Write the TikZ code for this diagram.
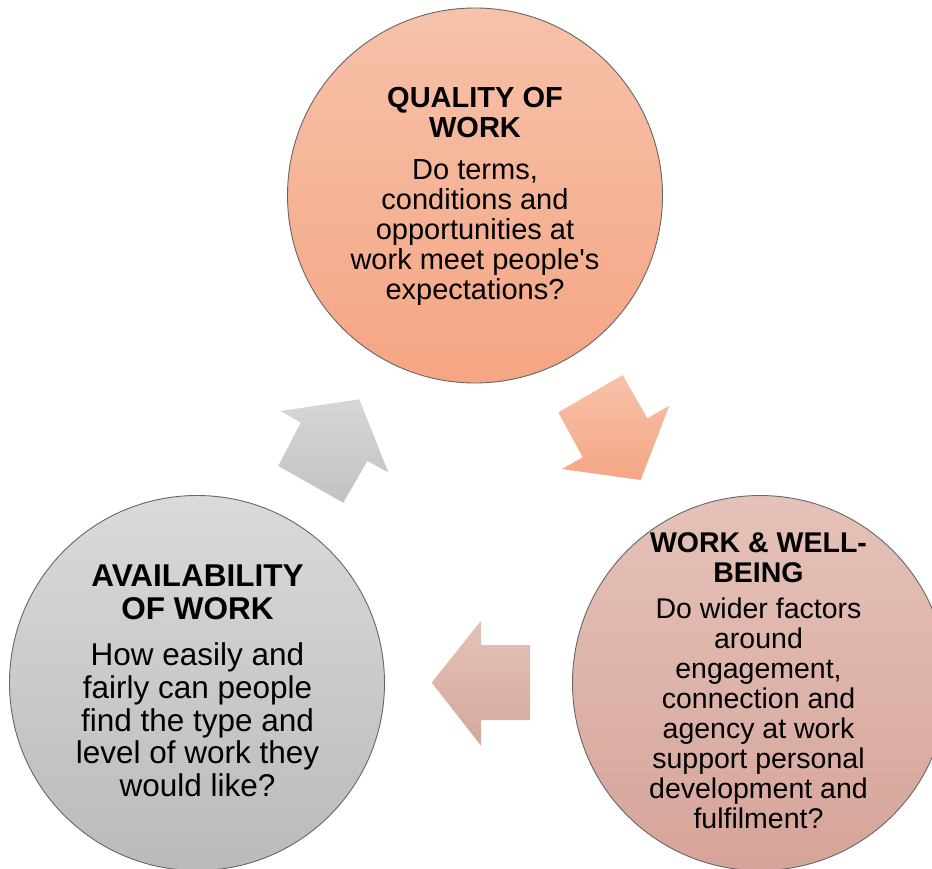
\documentclass[tikz,border=0pt]{standalone}
\usepackage{fontspec}
\setmainfont{Liberation Sans}[Ligatures=TeXOff]
\definecolor{qualtop}{RGB}{246,194,170}
\definecolor{qualbot}{RGB}{245,165,131}
\definecolor{welltop}{RGB}{229,194,185}
\definecolor{wellbot}{RGB}{214,164,153}
\definecolor{availtop}{RGB}{218,218,218}
\definecolor{availbot}{RGB}{186,186,186}
\definecolor{salarrtop}{RGB}{246,194,170}
\definecolor{salarrbot}{RGB}{245,166,132}
\definecolor{grayarrtop}{RGB}{214,214,214}
\definecolor{grayarrbot}{RGB}{194,194,194}
\definecolor{pinkarrtop}{RGB}{227,194,184}
\definecolor{pinkarrbot}{RGB}{214,167,156}
\begin{document}
\begin{tikzpicture}[x=1pt,y=-1pt,
  bubble/.style={circle, minimum size=375pt, inner sep=0pt, draw=black!60, line width=0.9pt},
  bubbletext/.style={align=center, anchor=north, inner sep=0pt, text=black},
  blockarrow/.style={draw=none}]
\useasboundingbox (0,0) rectangle (932,869);

% circles
\node[bubble, top color=qualtop, bottom color=qualbot] (qual) at (475,195.5) {};
\node[bubble, top color=availtop, bottom color=availbot] (avail) at (197,683) {};
\node[bubble, top color=welltop, bottom color=wellbot] (well) at (760,683) {};

% texts
\node[bubbletext, font=\fontsize{29}{30}\selectfont] (qualtxt) at (475,87.5)
  {\textbf{QUALITY OF}\\\textbf{WORK}\\[12pt]Do terms,\\conditions and\\opportunities at\\work meet people's\\expectations?};
\node[bubbletext, font=\fontsize{31.5}{32.8}\selectfont] (availtxt) at (197.5,564.5)
  {\textbf{AVAILABILITY}\\\textbf{OF WORK}\\[13.5pt]How easily and\\fairly can people\\find the type and\\level of work they\\would like?};
\node[bubbletext, font=\fontsize{28.5}{30}\selectfont] (welltxt) at (758.5,532)
  {\textbf{WORK \& WELL-}\\\textbf{BEING}\\[6pt]Do wider factors\\around\\engagement,\\connection and\\agency at work\\support personal\\development and\\fulfilment?};

% block arrows
\shade[blockarrow, top color=salarrtop, bottom color=salarrbot]
  (558.3,412.3) -- (622.7,375) -- (647.3,418.3) -- (669.3,405.7) -- (640.7,480)
  -- (561.7,469) -- (582.7,457.3) -- cycle;
\shade[blockarrow, top color=pinkarrtop, bottom color=pinkarrbot]
  (431.7,682.7) -- (481,620.7) -- (481,645) -- (530,645) -- (530,720)
  -- (481,720) -- (481,745.7) -- cycle;
\shade[blockarrow, top color=grayarrtop, bottom color=grayarrbot]
  (280.7,411) -- (359.3,399.3) -- (388.3,472.3) -- (367.3,461) -- (343.3,502.7)
  -- (278.3,466) -- (300.7,422.7) -- cycle;
\end{tikzpicture}
\end{document}
